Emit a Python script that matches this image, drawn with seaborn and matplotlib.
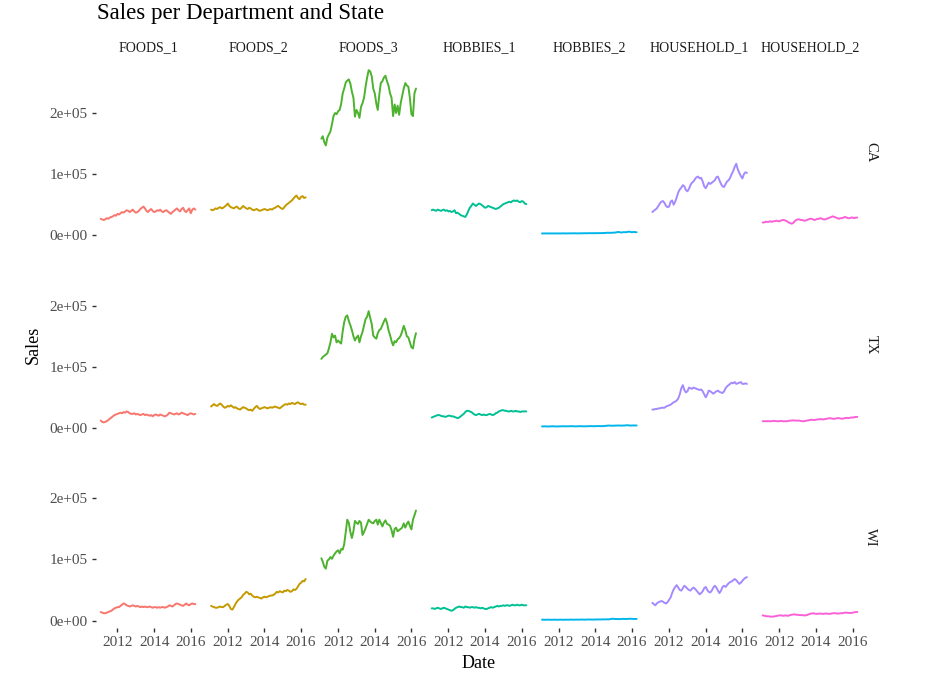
import numpy as np
import pandas as pd
import matplotlib
matplotlib.use("Agg")
import matplotlib.pyplot as plt
import seaborn as sns

# ---------------- data (monthly sales, in thousands) ----------------
dates = pd.date_range("2011-02-01", periods=63, freq="MS")
states = ["CA", "TX", "WI"]
departments = ["FOODS_1", "FOODS_2", "FOODS_3", "HOBBIES_1", "HOBBIES_2",
               "HOUSEHOLD_1", "HOUSEHOLD_2"]
dept_colors = ["#F8766D", "#C49A00", "#4DB22E", "#00C094", "#00B6EB",
               "#A58AFF", "#FB61D7"]
year_ticks = ["2012-01-01", "2014-01-01", "2016-01-01"]
year_labels = ["2012", "2014", "2016"]
sales_ticks = [0, 100000, 200000]
sales_labels = ["0e+00", "1e+05", "2e+05"]

ca_foods_1 = [27, 26, 25, 26, 28, 27, 29, 30, 31, 33, 32, 35,
              34, 36, 38, 37, 39, 41, 40, 38, 40, 42, 39, 37,
              38, 40, 43, 45, 47, 44, 40, 38, 41, 43, 40, 38,
              39, 41, 40, 42, 39, 38, 40, 41, 39, 37, 35, 38,
              40, 42, 44, 41, 39, 43, 45, 40, 38, 41, 44, 36,
              42, 44, 42]
ca_foods_2 = [42, 41, 42, 44, 43, 45, 46, 44, 45, 47, 49, 52,
              48, 46, 45, 44, 46, 47, 44, 43, 45, 48, 46, 44,
              43, 45, 44, 42, 41, 42, 43, 41, 40, 41, 42, 43,
              42, 41, 42, 43, 42, 44, 45, 47, 48, 46, 44, 43,
              46, 49, 51, 53, 55, 57, 60, 63, 65, 61, 59, 63,
              64, 61, 62]
ca_foods_3 = [158, 162, 152, 147, 160, 165, 170, 182, 195, 200, 198, 203,
              205, 215, 232, 240, 250, 253, 255, 248, 235, 225, 194, 205,
              200, 192, 210, 216, 225, 243, 258, 270, 268, 260, 240, 232,
              215, 205, 230, 249, 252, 258, 261, 252, 245, 232, 225, 195,
              214, 200, 212, 197, 216, 228, 240, 249, 245, 243, 225, 198,
              195, 232, 240]
ca_hobbies_1 = [41, 42, 41, 40, 42, 41, 40, 41, 42, 40, 41, 39,
                40, 38, 39, 41, 36, 37, 35, 33, 32, 31, 30, 34,
                40, 45, 48, 52, 50, 48, 50, 52, 51, 49, 47, 45,
                46, 48, 47, 46, 45, 44, 43, 44, 45, 47, 49, 51,
                52, 53, 54, 55, 54, 56, 57, 56, 57, 55, 54, 56,
                55, 52, 51]
ca_hobbies_2 = [3.0, 3.0, 3.1, 3.0, 3.0, 3.1, 3.0, 3.0, 3.1, 3.0, 3.0, 3.1,
                3.0, 3.1, 3.2, 3.1, 3.0, 3.1, 3.2, 3.1, 3.2, 3.3, 3.2, 3.1,
                3.2, 3.3, 3.2, 3.3, 3.4, 3.3, 3.4, 3.5, 3.4, 3.5, 3.4, 3.5,
                3.5, 3.6, 3.5, 3.6, 3.7, 3.6, 4.0, 4.2, 4.1, 4.0, 4.2, 4.3,
                4.5, 5.0, 5.5, 5.0, 4.5, 5.0, 5.2, 5.0, 5.5, 6.0, 5.5, 5.0,
                5.5, 5.2, 5.0]
ca_household_1 = [38, 40, 42, 44, 48, 52, 55, 56, 53, 48, 46, 47,
                  55, 57, 50, 55, 62, 70, 75, 78, 82, 80, 74, 72,
                  76, 82, 86, 88, 92, 95, 96, 93, 94, 88, 80, 77,
                  82, 86, 84, 86, 88, 90, 95, 96, 90, 84, 80, 79,
                  84, 88, 90, 94, 100, 105, 112, 117, 108, 102, 97, 93,
                  100, 103, 102]
ca_household_2 = [21, 21, 22, 22, 22, 23, 22, 23, 23, 24, 23, 23,
                  24, 25, 25, 24, 23, 21, 20, 19, 20, 23, 25, 26,
                  26, 25, 25, 24, 24, 25, 26, 27, 27, 26, 25, 26,
                  27, 27, 28, 27, 26, 26, 27, 28, 29, 30, 31, 30,
                  29, 28, 27, 28, 28, 29, 30, 29, 28, 28, 29, 29,
                  28, 29, 29]

tx_foods_1 = [12, 10, 9, 10, 11, 13, 15, 17, 19, 21, 22, 23,
              24, 25, 24, 26, 25, 27, 26, 24, 23, 23, 24, 22,
              23, 22, 21, 22, 23, 21, 22, 21, 20, 21, 19, 21,
              22, 21, 20, 22, 21, 20, 19, 20, 22, 25, 24, 23,
              22, 23, 24, 22, 23, 25, 24, 23, 22, 21, 23, 24,
              23, 22, 23]
tx_foods_2 = [35, 37, 39, 37, 36, 38, 40, 38, 35, 33, 34, 36,
              35, 37, 35, 33, 34, 32, 31, 30, 32, 34, 33, 32,
              30, 29, 30, 28, 31, 34, 36, 33, 31, 32, 33, 34,
              33, 32, 33, 34, 33, 34, 35, 34, 33, 32, 34, 36,
              38, 39, 38, 40, 39, 41, 40, 39, 41, 42, 40, 39,
              40, 38, 38]
tx_foods_3 = [113, 116, 118, 120, 122, 130, 140, 154, 148, 151, 140, 143,
              140, 138, 158, 173, 182, 184, 175, 168, 160, 150, 143, 148,
              151, 140, 150, 157, 168, 178, 182, 191, 180, 170, 151, 148,
              146, 155, 160, 162, 168, 174, 179, 172, 160, 152, 142, 135,
              142, 140, 145, 147, 151, 158, 167, 160, 150, 148, 140, 132,
              130, 145, 155]
tx_hobbies_1 = [17, 18, 19, 20, 21, 21, 20, 19, 19, 18, 19, 20,
                20, 19, 19, 18, 17, 16, 17, 19, 21, 23, 26, 28,
                28, 27, 26, 24, 22, 21, 22, 23, 22, 21, 22, 21,
                21, 22, 23, 22, 21, 22, 24, 25, 27, 28, 29, 29,
                28, 28, 27, 27, 28, 27, 27, 28, 27, 27, 26, 27,
                27, 27, 27]
tx_hobbies_2 = [2.5, 2.5, 2.6, 2.5, 2.4, 2.5, 2.6, 2.7, 2.6, 2.5, 2.4, 2.5,
                2.6, 2.7, 2.8, 2.7, 2.6, 2.7, 2.8, 2.9, 2.8, 2.7, 2.6, 2.7,
                2.8, 2.9, 2.8, 2.7, 2.6, 2.7, 2.8, 2.9, 3.0, 2.9, 2.8, 2.9,
                3.0, 3.1, 3.0, 2.9, 3.0, 3.2, 3.5, 3.8, 3.9, 3.7, 3.6, 3.7,
                3.8, 3.9, 4.0, 3.9, 3.8, 3.9, 4.0, 4.2, 4.5, 4.1, 3.9, 4.0,
                4.1, 4.0, 4.0]
tx_household_1 = [30, 30, 31, 31, 32, 32, 33, 33, 33, 35, 36, 37,
                  38, 40, 42, 43, 45, 48, 55, 65, 70, 62, 58, 60,
                  66, 65, 64, 66, 65, 64, 63, 62, 63, 60, 55, 50,
                  55, 61, 60, 58, 56, 58, 60, 61, 59, 58, 57, 60,
                  65, 68, 70, 72, 74, 73, 75, 72, 73, 74, 75, 72,
                  72, 73, 72]
tx_household_2 = [11, 11, 11, 11, 11, 11, 11, 11.5, 11.5, 11, 11, 11,
                  11.5, 11, 11, 11, 11, 11.5, 12, 12, 12.5, 12, 12, 12,
                  12, 11.5, 11, 11, 11.5, 12, 12.5, 13, 13.5, 13, 13, 13.5,
                  14, 14, 14.5, 14, 14, 14.5, 15, 15.5, 16, 15.5, 15, 15,
                  15.5, 16, 16, 15.5, 15, 15.5, 16, 16.5, 16, 16.5, 17, 17,
                  17.5, 18, 18]

wi_foods_1 = [14, 13, 12, 12, 13, 14, 15, 16, 18, 20, 21, 22,
              22, 24, 26, 28, 27, 25, 24, 23, 24, 25, 24, 23,
              24, 23, 22, 23, 22, 23, 22, 22, 23, 22, 21, 22,
              22, 21, 22, 21, 22, 22, 21, 22, 23, 25, 24, 23,
              25, 27, 28, 27, 26, 25, 24, 26, 28, 26, 25, 27,
              28, 27, 27]
wi_foods_2 = [24, 23, 22, 21, 21, 22, 23, 22, 22, 24, 26, 27,
              24, 19, 18, 22, 27, 31, 34, 36, 38, 42, 44, 47,
              46, 43, 44, 41, 39, 38, 39, 38, 37, 36, 38, 39,
              38, 39, 40, 41, 41, 42, 44, 47, 46, 48, 47, 46,
              49, 48, 50, 49, 47, 48, 51, 50, 52, 56, 60, 62,
              65, 64, 68]
wi_foods_3 = [102, 96, 88, 85, 98, 100, 104, 101, 106, 110, 113, 115,
              110, 117, 116, 125, 145, 165, 160, 145, 135, 146, 163, 160,
              158, 163, 160, 140, 145, 151, 158, 165, 162, 160, 159, 163,
              165, 157, 165, 160, 154, 160, 164, 158, 157, 155, 148, 137,
              150, 152, 146, 148, 150, 152, 159, 152, 158, 162, 155, 149,
              165, 172, 180]
wi_hobbies_1 = [20, 20, 19, 20, 21, 20, 19, 20, 21, 20, 19, 18,
                17, 16, 17, 19, 21, 22, 23, 22, 22, 21, 23, 22,
                22, 21, 22, 22, 21, 22, 21, 21, 20, 21, 20, 19,
                19, 20, 21, 22, 21, 22, 23, 24, 23, 24, 24, 25,
                24, 25, 25, 24, 25, 26, 25, 25, 26, 25, 25, 26,
                25, 25, 25]
wi_hobbies_2 = [1.5, 1.4, 1.3, 1.4, 1.5, 1.4, 1.3, 1.4, 1.5, 1.4, 1.3, 1.4,
                1.5, 1.4, 1.3, 1.4, 1.5, 1.4, 1.5, 1.6, 1.5, 1.4, 1.5, 1.6,
                1.5, 1.6, 1.7, 1.6, 1.5, 1.6, 1.7, 1.8, 1.7, 1.6, 1.7, 1.8,
                1.8, 1.9, 1.8, 1.9, 2.0, 1.9, 2.0, 2.1, 2.0, 2.5, 3.0, 2.8,
                2.5, 2.6, 2.5, 2.4, 2.6, 2.8, 2.7, 2.6, 2.7, 2.9, 3.0, 2.8,
                2.7, 2.6, 2.7]
wi_household_1 = [29, 27, 25, 28, 30, 31, 32, 31, 29, 28, 30, 34,
                  38, 45, 51, 55, 58, 54, 50, 49, 53, 57, 55, 52,
                  50, 49, 52, 54, 52, 49, 46, 43, 45, 48, 53, 55,
                  50, 47, 46, 49, 54, 57, 54, 49, 45, 49, 55, 57,
                  55, 58, 61, 63, 64, 66, 68, 66, 63, 60, 62, 65,
                  68, 70, 71]
wi_household_2 = [8.5, 8, 7.5, 7, 7, 6.5, 6.5, 6.5, 7, 7.5, 8, 8.5,
                  8.5, 8, 8, 8.5, 8, 8, 9, 9.5, 10, 10, 9.5, 9.5,
                  9, 9, 9, 8.5, 8.5, 9, 10, 11, 11.5, 12, 11.5, 11,
                  11, 11.5, 11.5, 11, 11, 11.5, 11.5, 11, 11, 11.5, 12, 12,
                  12, 11.5, 11.5, 12, 12, 12.5, 13, 13, 12.5, 12.5, 12.5, 13,
                  13.5, 14, 14]

series = {
    ("CA", "FOODS_1"): ca_foods_1, ("CA", "FOODS_2"): ca_foods_2,
    ("CA", "FOODS_3"): ca_foods_3, ("CA", "HOBBIES_1"): ca_hobbies_1,
    ("CA", "HOBBIES_2"): ca_hobbies_2, ("CA", "HOUSEHOLD_1"): ca_household_1,
    ("CA", "HOUSEHOLD_2"): ca_household_2,
    ("TX", "FOODS_1"): tx_foods_1, ("TX", "FOODS_2"): tx_foods_2,
    ("TX", "FOODS_3"): tx_foods_3, ("TX", "HOBBIES_1"): tx_hobbies_1,
    ("TX", "HOBBIES_2"): tx_hobbies_2, ("TX", "HOUSEHOLD_1"): tx_household_1,
    ("TX", "HOUSEHOLD_2"): tx_household_2,
    ("WI", "FOODS_1"): wi_foods_1, ("WI", "FOODS_2"): wi_foods_2,
    ("WI", "FOODS_3"): wi_foods_3, ("WI", "HOBBIES_1"): wi_hobbies_1,
    ("WI", "HOBBIES_2"): wi_hobbies_2, ("WI", "HOUSEHOLD_1"): wi_household_1,
    ("WI", "HOUSEHOLD_2"): wi_household_2,
}

frames = []
for (st, dp), vals in series.items():
    n = min(len(vals), len(dates))
    frames.append(pd.DataFrame({"Date": dates[:n], "Sales": np.array(vals[:n]) * 1000.0,
                                "state": st, "dept": dp}))
df = pd.concat(frames, ignore_index=True)

# ---------------- style ----------------
sns.set_style("ticks")
plt.rcParams["font.family"] = ["Liberation Serif", "DejaVu Serif"]

g = sns.relplot(data=df, x="Date", y="Sales", row="state", col="dept",
                hue="dept", palette=dict(zip(departments, dept_colors)),
                row_order=states, col_order=departments, hue_order=departments,
                kind="line", legend=False, linewidth=1.4,
                height=2, aspect=0.6,
                facet_kws=dict(sharex=True, sharey=True, despine=False))

fig = g.figure
fig.set_size_inches(9.3, 6.89)
fig.set_dpi(100)
fig.subplots_adjust(left=96 / 930, right=862 / 930,
                    top=1 - 62 / 689, bottom=1 - 628 / 689,
                    wspace=0.06, hspace=0.066)

g.set_titles("")
g.set_axis_labels("", "")

tick_col = "#4D4D4D"
nrow, ncol = g.axes.shape
for i in range(nrow):
    for j in range(ncol):
        ax = g.axes[i, j]
        for s in ax.spines.values():
            s.set_visible(False)
        ax.set_facecolor("white")
        ax.set_xticks(pd.to_datetime(year_ticks), labels=year_labels)
        ax.set_yticks(sales_ticks, labels=sales_labels)
        ax.set_title("")
        ax.tick_params(axis="both", which="both", length=3, width=1.0,
                       color="#333333", labelcolor=tick_col, labelsize=11, pad=2.8)
        ax.tick_params(axis="x", bottom=(i == nrow - 1), labelbottom=(i == nrow - 1))
        ax.tick_params(axis="y", left=(j == 0), labelleft=(j == 0))
        if i == 0:
            ax.set_title(departments[j], fontsize=10, color="#1A1A1A", pad=8)
        if j == ncol - 1:
            ax.text(1.085, 0.5, states[i], transform=ax.transAxes, rotation=-90,
                    ha="center", va="center", fontsize=10.5, color="#1A1A1A")
        ax.margins(x=0.05, y=0.05)

fig.text(96.5 / 930, 1 - 13 / 689, "Sales per Department and State",
         fontsize=16.5, ha="left", va="center", color="black")
fig.text(33 / 930, 1 - 345 / 689, "Sales", fontsize=13, rotation=90,
         ha="center", va="center", color="black")
fig.text(479 / 930, 1 - 663 / 689, "Date", fontsize=13,
         ha="center", va="center", color="black")

fig.savefig("out.png", dpi=100, facecolor="white")
